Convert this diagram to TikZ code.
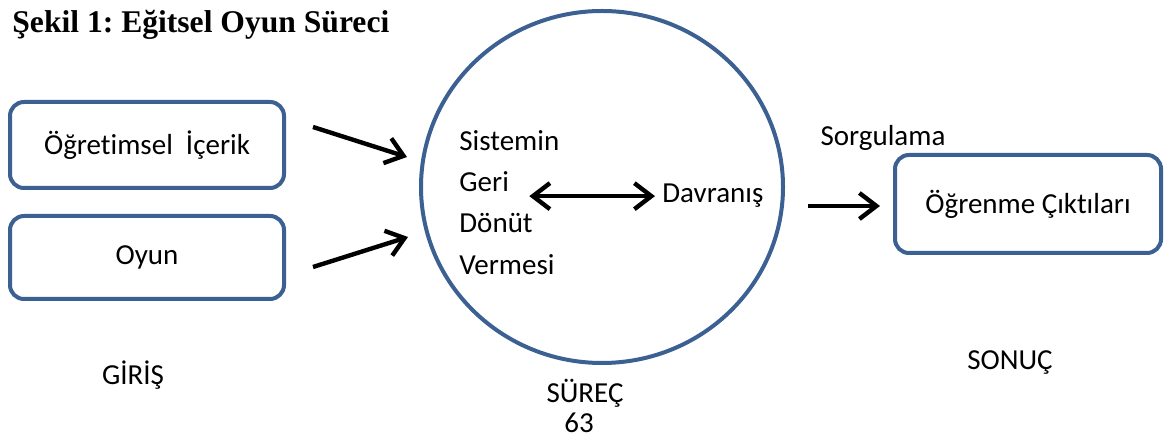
\documentclass[tikz,border=0pt]{standalone}
\usepackage{fontspec}
\setmainfont{Carlito}[Ligatures={NoCommon}]
\newfontfamily\titlefont{Liberation Serif}
\usetikzlibrary{arrows.meta,shapes.geometric}
\definecolor{frameblue}{RGB}{59,96,145}
\frenchspacing

\begin{document}
\begin{tikzpicture}[x=0.5pt, y=-0.5pt,
  every node/.style={inner sep=0pt, font=\fontsize{14.5}{17}\selectfont},
  inbox/.style={draw=frameblue, line width=2pt, rounded corners=7pt},
  arr/.style={line width=2.2pt, -{Straight Barb[length=8.5pt, width=13pt]}},
  biarr/.style={line width=2.2pt, {Straight Barb[length=8.5pt, width=13pt]}-{Straight Barb[length=8.5pt, width=13pt]}}]

\useasboundingbox (0,0) rectangle (1165,437);

% Title
\node[anchor=base west, font=\titlefont\bfseries\fontsize{15.8}{19}\selectfont] (title) at (12,33) {Şekil 1: Eğitsel Oyun Süreci};

% Input boxes
\node[inbox, minimum width=137pt, minimum height=43pt] (content) at (147,145) {Öğretimsel\ \ İçerik};
\node[inbox, minimum width=137pt, minimum height=41.5pt] (game) at (147,257.5) {Oyun};
\node[anchor=base] (input) at (133,385) {GİRİŞ};

% Process circle
\node[ellipse, draw=frameblue, line width=2pt, minimum width=181pt, minimum height=176pt] (process) at (602,187) {};
\node[anchor=base west] (sistemin) at (459,151) {Sistemin};
\node[anchor=base west] (geri) at (459,192) {Geri};
\node[anchor=base west] (donut) at (459,233) {Dönüt};
\node[anchor=base west] (vermesi) at (459,275) {Vermesi};
\node[anchor=base west] (davranis) at (662,203) {Davranış};
\node[anchor=base] (processlabel) at (585,402) {SÜREÇ};
\node[anchor=base] (page) at (579,432) {63};

% Output box
\node[inbox, minimum width=133pt, minimum height=49pt] (result) at (1028,204) {Öğrenme Çıktıları};
\node[anchor=base] (query) at (883,146) {Sorgulama};
\node[anchor=base] (output) at (1010,370) {SONUÇ};

% Arrows
\coordinate (in1) at (313,127);
\coordinate (in1tip) at (407,157);
\coordinate (in2) at (313,267);
\coordinate (in2tip) at (408,237);
\coordinate (out) at (808,206);
\draw[arr] (in1) -- (in1tip);
\draw[arr] (in2) -- (in2tip);
\draw[biarr] ([xshift=10pt]geri.east |- davranis.west) -- ([xshift=-3.5pt]davranis.west);
\draw[arr, shorten >=6.5pt] (out) -- (out -| result.west);

\end{tikzpicture}
\end{document}
